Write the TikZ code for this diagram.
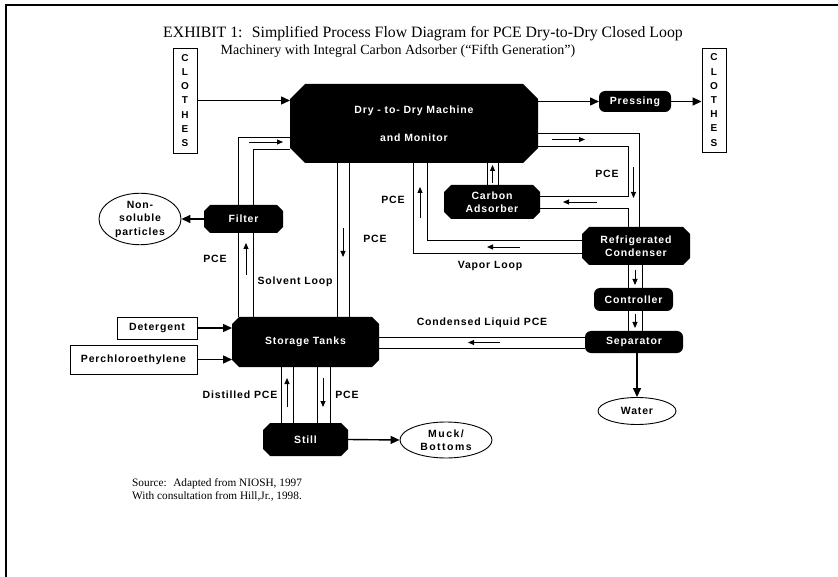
\documentclass[tikz,border=0pt]{standalone}
\usepackage{fontspec}
\setmainfont{Liberation Serif}
\setsansfont{Liberation Sans}[LetterSpace=8]
\usetikzlibrary{positioning,shapes.geometric,arrows.meta}

\tikzset{
  darkbox/.style={text=white, font=\sffamily\bfseries\fontsize{10.5}{13.5}\selectfont, align=center, inner sep=0pt, outer sep=0pt},
  chambox/.style={darkbox, rectangle,
    path picture={\fill[black] ([xshift=#1]path picture bounding box.north west) -- ([xshift=-#1]path picture bounding box.north east)
      -- ([yshift=-#1]path picture bounding box.north east) -- ([yshift=#1]path picture bounding box.south east)
      -- ([xshift=-#1]path picture bounding box.south east) -- ([xshift=#1]path picture bounding box.south west)
      -- ([yshift=#1]path picture bounding box.south west) -- ([yshift=-#1]path picture bounding box.north west) -- cycle;}},
  chambox/.default=7pt,
  roundbox/.style={darkbox, fill=black, rectangle, rounded corners=6pt},
  whitebox/.style={draw, line width=0.9pt, rectangle, inner sep=0pt, font=\sffamily\bfseries\fontsize{10.5}{13.5}\selectfont, align=center},
  oval/.style={draw, line width=0.9pt, ellipse, inner sep=0pt, font=\sffamily\bfseries\fontsize{10.5}{13.5}\selectfont, align=center},
  pipe/.style={line width=0.9pt},
  flow/.style={line width=1.4pt, -{Triangle[length=9pt,width=8pt]}},
  marker/.style={line width=0.9pt, -{Triangle[length=6pt,width=5pt]}},
  tag/.style={font=\sffamily\bfseries\fontsize{10.5}{13}\selectfont, inner sep=0pt},
}

\begin{document}
\begin{tikzpicture}[x=1pt, y=-1pt]
  \useasboundingbox (0,0) rectangle (838,577);
  \draw[line width=1.2pt] (6,577) -- (6,5) -- (838,5);

  % title and source
  \node[font=\fontsize{15.8}{18}\selectfont, inner sep=0pt] (title) at (423,34) {EXHIBIT 1:~ Simplified Process Flow Diagram for PCE Dry-to-Dry Closed Loop};
  \node[font=\fontsize{14}{17}\selectfont, inner sep=0pt] (subtitle) at (398,51) {Machinery with Integral Carbon Adsorber (“Fifth Generation”)};
  \node[anchor=west, font=\fontsize{11.3}{13.5}\selectfont, align=left, inner sep=0pt] (source) at (132,490) {Source:~ Adapted from NIOSH, 1997\\With consultation from Hill,Jr., 1998.};

  % process units
  \node[whitebox, minimum width=24pt, minimum height=105pt, font=\sffamily\bfseries\fontsize{10}{14.2}\selectfont] (clothesIn) at (185,100.5) {C\\L\\O\\T\\H\\E\\S};
  \node[chambox=15pt, minimum width=248pt, minimum height=79pt, font=\sffamily\bfseries\fontsize{10.5}{28}\selectfont] (machine) at (414,123.5) {Dry - to- Dry Machine\\and Monitor};
  \node[roundbox, minimum width=72pt, minimum height=21pt] (pressing) at (635,101.5) {Pressing};
  \node[whitebox, minimum width=24pt, minimum height=104pt, font=\sffamily\bfseries\fontsize{10}{14.2}\selectfont] (clothesOut) at (714,100) {C\\L\\O\\T\\H\\E\\S};
  \node[chambox, minimum width=96pt, minimum height=34pt] (adsorber) at (492,202) {Carbon\\Adsorber};
  \node[chambox, minimum width=108pt, minimum height=38pt] (condenser) at (636,246) {Refrigerated\\Condenser};
  \node[roundbox, minimum width=79pt, minimum height=23pt] (controller) at (633.5,299.5) {Controller};
  \node[roundbox, minimum width=98pt, minimum height=22pt] (separator) at (634,342) {Separator};
  \node[oval, minimum width=78pt, minimum height=27pt] (water) at (637,411) {Water};
  \node[chambox=6pt, minimum width=79pt, minimum height=28pt] (filter) at (243.5,219) {Filter};
  \node[oval, minimum width=82pt, minimum height=47pt] (particles) at (140,219) {Non-\\soluble\\particles};
  \node[chambox, minimum width=147pt, minimum height=50pt] (storage) at (305.5,342) {Storage Tanks};
  \node[whitebox, minimum width=80pt, minimum height=22pt] (detergent) at (157,328) {Detergent};
  \node[whitebox, minimum width=127pt, minimum height=29pt] (perc) at (133.5,359.5) {Perchloroethylene};
  \node[chambox, minimum width=85pt, minimum height=33pt] (still) at (305.5,439.5) {Still};
  \node[oval, minimum width=92pt, minimum height=36pt, font=\sffamily\bfseries\addfontfeatures{LetterSpace=14}\fontsize{10.5}{13.5}\selectfont] (muck) at (446,440) {Muck/\\Bottoms};

  % texts along the loops
  \node[tag] (pceSolvent) at (215,259) {PCE};
  \node[tag] (solventLoop) at (295,282) {Solvent Loop};
  \node[tag] (pceDown) at (375,239) {PCE};
  \node[tag] (pceVapor) at (393,200) {PCE};
  \node[tag] (vaporLoop) at (490,266) {Vapor Loop};
  \node[tag] (pceRight) at (607,174) {PCE};
  \node[tag] (condensed) at (482,323) {Condensed Liquid PCE};
  \node[tag] (distilled) at (240,395) {Distilled PCE};
  \node[tag] (pceStill) at (347,395) {PCE};

  % single flows
  \draw[flow] (clothesIn.east) -- (clothesIn.east -| machine.west);
  \draw[flow] (machine.east |- pressing.west) -- (pressing.west);
  \draw[flow] (pressing.east) -- (pressing.east -| clothesOut.west);
  \draw[flow] (filter.west) -- (particles.east);
  \draw[flow] (water.north |- separator.south) -- (water.north);
  \draw[flow] (still.east) -- (muck.west);
  \draw[flow] (detergent.east) -- (detergent.east -| storage.west);
  \draw[flow] (perc.east) -- (perc.east -| storage.west);

  % solvent loop
  \draw[pipe] ([xshift=-5.5pt]filter.north) |- ([yshift=-13.5pt]machine.west);
  \draw[pipe] ([xshift=9.5pt]filter.north) |- ([yshift=-25.5pt]machine.west);
  \coordinate (fA) at ([xshift=-5.5pt]filter.south);
  \coordinate (fB) at ([xshift=9.5pt]filter.south);
  \draw[pipe] (fA) -- (fA |- storage.north);
  \draw[pipe] (fB) -- (fB |- storage.north);
  \coordinate (mA) at ([xshift=-77pt]machine.south);
  \coordinate (mB) at ([xshift=-65pt]machine.south);
  \draw[pipe] (mA) -- (mA |- storage.north);
  \draw[pipe] (mB) -- (mB |- storage.north);

  % vapor loop
  \draw[pipe] ([xshift=-1pt]machine.south) |- ([yshift=-7pt]condenser.west);
  \draw[pipe] ([xshift=13pt]machine.south) |- ([yshift=6pt]condenser.west);
  \coordinate (aA) at ([xshift=-5pt]adsorber.north);
  \coordinate (aB) at ([xshift=6pt]adsorber.north);
  \draw[pipe] (aA) -- (aA |- machine.south);
  \draw[pipe] (aB) -- (aB |- machine.south);
  \coordinate (adsIn) at ([yshift=6pt]adsorber.east);
  \coordinate (adsOut) at ([yshift=-6pt]adsorber.east);
  \coordinate (condA) at ([xshift=-8pt]condenser.north);
  \coordinate (condB) at ([xshift=3pt]condenser.north);
  \draw[pipe] ([yshift=-22.5pt]machine.east) -| (condA |- adsIn) -- (adsIn);
  \draw[pipe] (adsOut) -| (condA);
  \draw[pipe] ([yshift=-9.5pt]machine.east) -| (condB);

  % condensed liquid
  \coordinate (cA) at ([xshift=-8pt]condenser.south);
  \coordinate (cB) at ([xshift=6pt]condenser.south);
  \draw[pipe] (cA) -- (cA |- controller.north);
  \draw[pipe] (cB) -- (cB |- controller.north);
  \draw[pipe] (cA |- controller.south) -- (cA |- separator.north);
  \draw[pipe] (cB |- controller.south) -- (cB |- separator.north);
  \coordinate (sA) at ([yshift=5pt]separator.west);
  \coordinate (sB) at ([yshift=-6pt]separator.west);
  \draw[pipe] (sA) -- (sA -| storage.east);
  \draw[pipe] (sB) -- (sB -| storage.east);

  % still
  \foreach \dx [count=\i] in {-24.5,-12.5,11.5,24.5} {
    \coordinate (t\i) at ([xshift=\dx pt]storage.south);
    \draw[pipe] (t\i) -- (t\i |- still.north);
  }

  % flow direction marks
  \foreach \xa/\ya/\xb/\yb in {249/142/283/142, 246/275/246/243, 343/228/343/257, 420/218/420/187,
      520/247/487/247, 492.5/183/492.5/165, 552/139.5/585/139.5, 633.5/167/633.5/198,
      597/202/563/202, 635/270/635/285, 635/314/635/328, 500/342.5/468/342.5,
      287/407/287/378, 323/378/323/407}
    \draw[marker] (\xa,\ya) -- (\xb,\yb);
\end{tikzpicture}
\end{document}
